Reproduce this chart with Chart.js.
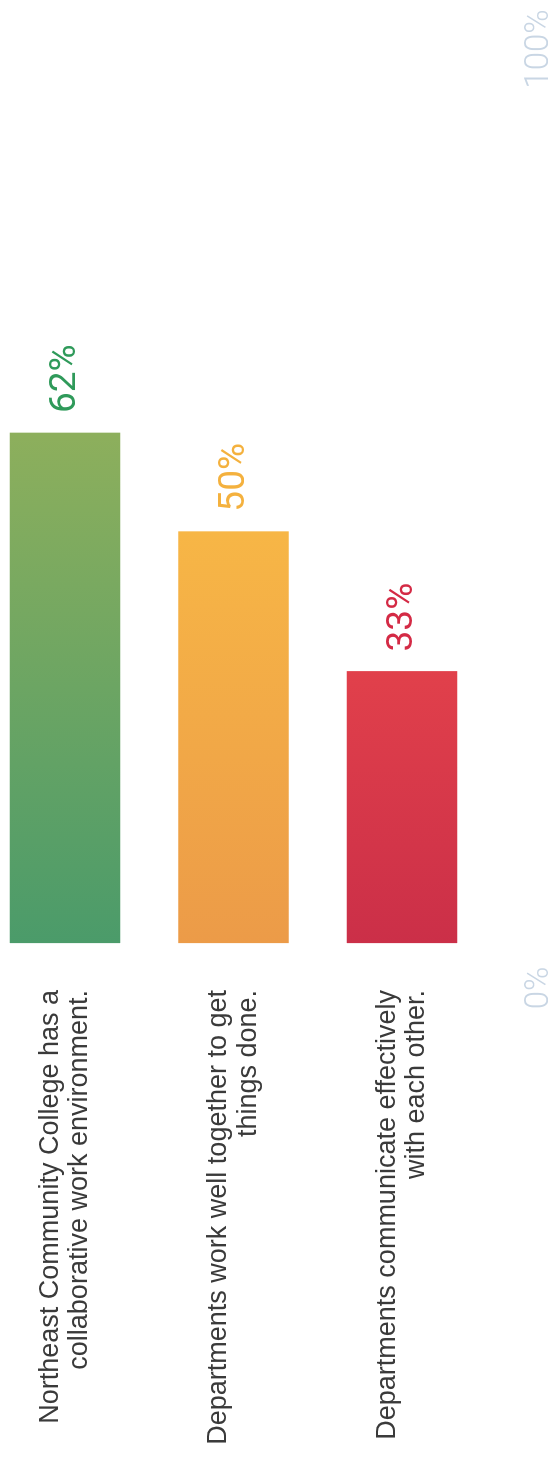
<!DOCTYPE html>
<html>
<head>
<meta charset="utf-8">
<script src="https://cdn.jsdelivr.net/npm/chart.js@4.4.0/dist/chart.umd.min.js"></script>
<style>
  html, body { margin: 0; padding: 0; background: #fff; overflow: hidden; }
  /* chart is laid out as a horizontal bar chart, then turned on its side */
  #stage {
    position: absolute; left: 0; top: 1465px;
    width: 1465px; height: 552px;
    transform: rotate(-90deg); transform-origin: 0 0;
  }
</style>
</head>
<body>
<div id="stage"><canvas id="chart" width="1465" height="552"></canvas></div>
<script>
// Data
const statements = [
    ['Northeast Community College has a', 'collaborative work environment.'],
    ['Departments work well together to get', 'things done.'],
    ['Departments communicate effectively', 'with each other.']
];
const agreePercent = [62, 50, 33];
const scaleTicks = [0, 100];

// Palette
const baseColors = ['#4b9b6a', '#ec9b48', '#cb2f48'];
const tipColors = ['#8daf5c', '#f7b646', '#e1404b'];
const valueColors = ['#2f9a5a', '#f4b13e', '#d42a45'];

function barGradient(context) {
    const i = context.dataIndex;
    const chart = context.chart;
    if (!chart.chartArea || !chart.scales.x) {
        return baseColors[i];
    }
    const x = chart.scales.x;
    const g = chart.ctx.createLinearGradient(x.getPixelForValue(0), 0, x.getPixelForValue(agreePercent[i]), 0);
    g.addColorStop(0, baseColors[i]);
    g.addColorStop(1, tipColors[i]);
    return g;
}

// Percentage labels at the end of each bar
const valueLabels = {
    id: 'valueLabels',
    afterDatasetsDraw(chart) {
        const ctx = chart.ctx;
        const meta = chart.getDatasetMeta(0);
        ctx.save();
        ctx.font = '400 37px Roboto';
        ctx.textAlign = 'left';
        ctx.textBaseline = 'middle';
        meta.data.forEach((bar, i) => {
            ctx.fillStyle = valueColors[i];
            ctx.fillText(agreePercent[i] + '%', bar.x + 20, bar.y + 1);
        });
        ctx.restore();
    }
};

new Chart(document.getElementById('chart'), {
    type: 'bar',
    data: {
        labels: statements,
        datasets: [{
            data: agreePercent,
            backgroundColor: barGradient,
            borderWidth: 0,
            barThickness: 110,
            clip: false
        }]
    },
    options: {
        indexAxis: 'y',
        responsive: false,
        animation: false,
        events: [],
        layout: {
            padding: { top: 65, right: 49, bottom: 0, left: 0 }
        },
        plugins: {
            legend: { display: false },
            tooltip: { enabled: false }
        },
        scales: {
            x: {
                display: false,
                min: -5.5,
                max: 108.7
            },
            xScale: {
                type: 'linear',
                position: 'bottom',
                min: 0,
                max: 100,
                grid: { display: false, drawTicks: false },
                border: { display: false },
                afterBuildTicks: scale => {
                    scale.ticks = scaleTicks.map(v => ({ value: v }));
                },
                afterFit: scale => {
                    scale.height = 150;
                    // the 0% / 100% labels sit far below, don't let them squeeze the plot sideways
                    scale.paddingLeft = 0;
                    scale.paddingRight = 0;
                },
                ticks: {
                    padding: 118,
                    color: '#c9d6e4',
                    font: { family: 'Roboto', size: 33, weight: '300' },
                    maxRotation: 0,
                    autoSkip: false,
                    callback: v => v + '%'
                }
            },
            y: {
                type: 'category',
                offset: false,
                grid: { display: false, drawTicks: false },
                border: { display: false },
                afterFit: scale => {
                    scale.width = 477;
                },
                ticks: {
                    padding: 2,
                    color: '#3a3a3a',
                    font: { family: 'Liberation Sans', size: 27, lineHeight: 1.1 }
                }
            }
        }
    },
    plugins: [valueLabels]
});
</script>
</body>
</html>
